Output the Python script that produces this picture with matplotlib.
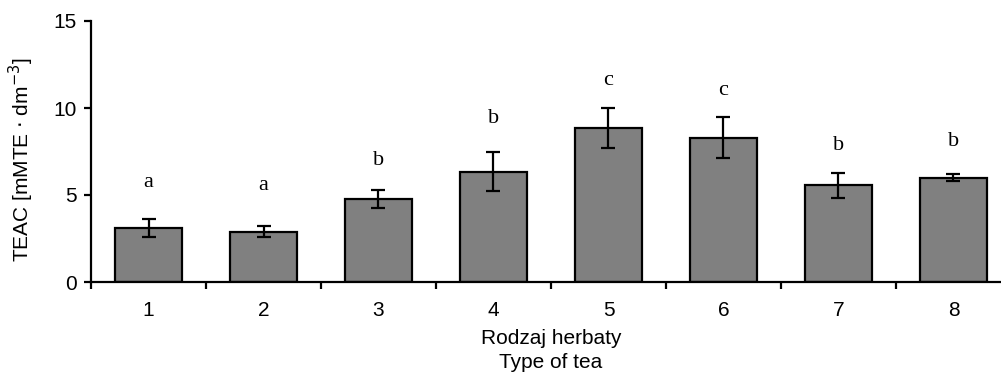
import matplotlib
matplotlib.use("Agg")
import matplotlib.pyplot as plt
import numpy as np

categories = ["1", "2", "3", "4", "5", "6", "7", "8"]
teac_mean = [3.1, 2.9, 4.75, 6.35, 8.85, 8.3, 5.55, 6.0]
teac_err = [0.5, 0.3, 0.52, 1.12, 1.15, 1.2, 0.7, 0.22]
group_letters = ["a", "a", "b", "b", "c", "c", "b", "b"]
letter_y = [5.69, 5.52, 7.0, 9.37, 11.6, 10.98, 7.87, 8.05]
y_ticks = [0, 5, 10, 15]

W, H = 1001, 385
fig = plt.figure(figsize=(W / 100, H / 100), dpi=100)
x0, x1 = 91, 1011
y0, y1 = 282, 21
ax = fig.add_axes([x0 / W, 1 - y0 / H, (x1 - x0) / W, (y0 - y1) / H])

sans = ["Liberation Sans", "DejaVu Sans"]
serif = ["Liberation Serif", "DejaVu Serif"]
fs = 15

x = np.arange(1, len(categories) + 1)
ax.bar(x, teac_mean, width=0.59, color="#808080", edgecolor="black", linewidth=1.6, zorder=2)
ax.errorbar(x, teac_mean, yerr=teac_err, fmt="none", ecolor="black", elinewidth=1.6,
            capsize=5, capthick=1.6, zorder=3)

for xi, lab, ly in zip(x, group_letters, letter_y):
    ax.text(xi, ly, lab, ha="center", va="center", fontsize=16, family=serif)

ax.set_xlim(0.5, 8.5)
ax.set_ylim(0, 15)
ax.set_yticks(y_ticks)
ax.set_xticks(x)
ax.set_xticklabels(categories, family=sans, fontsize=fs)
ax.set_xticks(np.arange(0.5, 9, 1), minor=True)
ax.tick_params(axis="x", which="major", length=0, pad=14)
ax.tick_params(axis="x", which="minor", length=5, width=1.6, direction="out")
ax.tick_params(axis="y", length=5, width=1.6, direction="out", pad=5)
for t in ax.get_yticklabels():
    t.set_family(sans)
    t.set_fontsize(fs)

for s in ["top", "right"]:
    ax.spines[s].set_visible(False)
for s in ["left", "bottom"]:
    ax.spines[s].set_linewidth(1.6)

fig.text(551 / W, 1 - 339 / H, "Rodzaj herbaty", ha="center", va="center", fontsize=fs, family=sans)
fig.text(551 / W, 1 - 362 / H, "Type of tea", ha="center", va="center", fontsize=fs, family=sans)
fig.text(21 / W, 1 - 160 / H, r"TEAC [mMTE $\cdot$ dm$^{-3}$]", ha="center", va="center",
         rotation=90, fontsize=fs, family=sans)

fig.savefig("out.png", dpi=100)
